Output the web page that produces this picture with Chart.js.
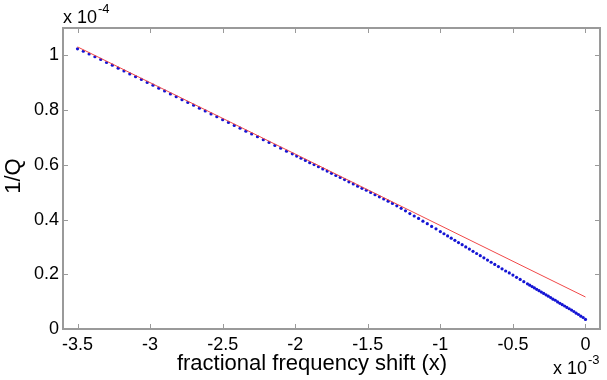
<!DOCTYPE html>
<html>
<head>
<meta charset="utf-8">
<script src="https://cdn.jsdelivr.net/npm/chart.js@4"></script>
<style>
html,body{margin:0;padding:0;background:#fff;}
#wrap{width:607px;height:380px;position:relative;}
</style>
</head>
<body>
<div id="wrap"><canvas id="c" width="607" height="380"></canvas></div>
<script>
// Measured data (x in units of 1e-3, y in units of 1e-4)
const measX = [
-3.50,-3.46,-3.42,-3.38,-3.34,-3.30,-3.26,-3.22,-3.18,-3.14,-3.10,-3.06,-3.02,-2.98,-2.94,-2.90,-2.86,-2.82,-2.78,-2.74,
-2.70,-2.66,-2.62,-2.58,-2.54,-2.50,-2.46,-2.42,-2.38,-2.34,-2.30,-2.26,-2.22,-2.18,-2.14,-2.10,-2.06,-2.02,
-1.99,-1.96,-1.93,-1.90,-1.87,-1.84,-1.81,-1.78,-1.75,-1.72,-1.69,-1.66,-1.63,-1.60,-1.57,-1.54,-1.51,-1.48,-1.45,-1.42,
-1.39,-1.36,-1.33,-1.30,-1.27,-1.24,-1.21,-1.18,-1.15,-1.12,-1.09,-1.06,-1.03,-1.00,
-0.975,-0.950,-0.925,-0.900,-0.875,-0.850,-0.825,-0.800,-0.775,-0.750,-0.725,-0.700,-0.675,-0.650,-0.625,-0.600,
-0.575,-0.550,-0.525,-0.500,-0.475,-0.450,-0.425,-0.400,
-0.384,-0.368,-0.352,-0.336,-0.320,-0.304,-0.288,-0.272,-0.256,-0.240,-0.224,-0.208,-0.192,-0.176,-0.160,-0.144,
-0.128,-0.112,-0.096,-0.080,-0.064,-0.048,-0.032,-0.016,0.000
];
const measY = [
1.024,1.015,1.005,0.995,0.985,0.974,0.964,0.953,0.943,0.932,0.922,0.912,0.901,0.891,0.880,0.870,0.859,0.849,0.838,0.828,
0.818,0.807,0.797,0.786,0.776,0.765,0.755,0.744,0.734,0.723,0.713,0.703,0.692,0.682,0.671,0.661,0.650,0.640,
0.632,0.624,0.616,0.608,0.601,0.593,0.585,0.577,0.569,0.561,0.554,0.546,0.538,0.530,0.522,0.514,0.507,0.499,0.491,0.483,
0.475,0.467,0.459,0.450,0.441,0.432,0.422,0.413,0.404,0.394,0.385,0.375,0.366,0.356,
0.348,0.340,0.332,0.324,0.316,0.308,0.300,0.292,0.284,0.276,0.268,0.260,0.252,0.244,0.236,0.228,
0.220,0.212,0.205,0.197,0.189,0.181,0.173,0.165,
0.160,0.155,0.150,0.145,0.140,0.135,0.130,0.125,0.120,0.115,0.109,0.105,0.099,0.094,0.089,0.084,
0.079,0.074,0.069,0.064,0.058,0.053,0.047,0.042,0.035
];
// Linear fit line endpoints
const fitX = [-3.5, 0.0];
const fitY = [1.031, 0.117];
// Axis ticks
const xTicks = [-3.5,-3,-2.5,-2,-1.5,-1,-0.5,0];
const yTicks = [0,0.2,0.4,0.6,0.8,1];
const xTickLabels = ['-3.5','-3','-2.5','-2','-1.5','-1','-0.5','0'];
const yTickLabels = ['0','0.2','0.4','0.6','0.8','1'];

const FONT = "'Liberation Sans', Arial, sans-serif";
const AXIS_COLOR = '#9a9a9a';

const boxPlugin = {
  id: 'boxPlugin',
  afterDraw(chart) {
    const ctx = chart.ctx, a = chart.chartArea;
    const xs = chart.scales.x, ys = chart.scales.y;
    ctx.save();
    ctx.strokeStyle = AXIS_COLOR;
    ctx.lineWidth = 2;
    ctx.strokeRect(a.left, a.top, a.right - a.left, a.bottom - a.top);
    ctx.lineWidth = 1;
    const tl = 5;
    ctx.beginPath();
    xTicks.forEach(v => {
      const px = Math.round(xs.getPixelForValue(v)) + 0.5;
      ctx.moveTo(px, a.bottom); ctx.lineTo(px, a.bottom - tl);
      ctx.moveTo(px, a.top); ctx.lineTo(px, a.top + tl);
    });
    yTicks.forEach(v => {
      const py = Math.round(ys.getPixelForValue(v)) + 0.5;
      ctx.moveTo(a.left, py); ctx.lineTo(a.left + tl, py);
      ctx.moveTo(a.right, py); ctx.lineTo(a.right - tl, py);
    });
    ctx.stroke();
    // exponent labels
    ctx.fillStyle = '#000';
    ctx.textBaseline = 'alphabetic';
    ctx.textAlign = 'left';
    ctx.font = '18px ' + FONT;
    ctx.fillText('x 10', 63, 23);
    let w = ctx.measureText('x 10').width;
    ctx.font = '13px ' + FONT;
    ctx.fillText('-4', 63 + w + 1, 13);
    ctx.font = '18px ' + FONT;
    ctx.fillText('x 10', 553, 374);
    w = ctx.measureText('x 10').width;
    ctx.font = '13px ' + FONT;
    ctx.fillText('-3', 553 + w + 1, 364);
    // axis titles
    ctx.font = '22px ' + FONT;
    ctx.textAlign = 'center';
    ctx.fillText('fractional frequency shift (x)', 312, 370);
    ctx.save();
    ctx.translate(20, 176);
    ctx.rotate(-Math.PI / 2);
    ctx.fillText('1/Q', 0, 0);
    ctx.restore();
    ctx.restore();
  }
};

new Chart(document.getElementById('c'), {
  type: 'scatter',
  data: {
    datasets: [
      {
        label: 'fit',
        data: fitX.map((x, i) => ({x, y: fitY[i]})),
        showLine: true,
        borderColor: '#f04848',
        borderWidth: 1,
        pointRadius: 0,
        fill: false,
        order: 0
      },
      {
        label: 'data',
        data: measX.map((x, i) => ({x, y: measY[i]})),
        showLine: false,
        pointRadius: 1.6,
        pointBorderWidth: 0,
        backgroundColor: '#1414d4',
        borderColor: '#1414d4',
        order: 1
      }
    ]
  },
  options: {
    responsive: false,
    animation: false,
    devicePixelRatio: 1,
    layout: { padding: { top: 28, right: 7, left: 0, bottom: 0 } },
    plugins: { legend: { display: false }, tooltip: { enabled: false } },
    scales: {
      x: {
        type: 'linear', min: -3.6, max: 0.1,
        afterBuildTicks: s => { s.ticks = xTicks.map(v => ({ value: v })); },
        afterFit: s => { s.height = 51; },
        grid: { display: false, drawTicks: false },
        border: { display: false },
        ticks: {
          autoSkip: false, maxRotation: 0, padding: 5, color: '#000',
          font: { family: FONT, size: 18 },
          callback: (v) => { const i = xTicks.indexOf(v); return i >= 0 ? xTickLabels[i] : ''; }
        }
      },
      y: {
        type: 'linear', min: 0, max: 1.1,
        afterBuildTicks: s => { s.ticks = yTicks.map(v => ({ value: v })); },
        afterFit: s => { s.width = 63; },
        grid: { display: false, drawTicks: false },
        border: { display: false },
        ticks: {
          autoSkip: false, padding: 4, color: '#000',
          font: { family: FONT, size: 18 },
          callback: (v) => { const i = yTicks.indexOf(v); return i >= 0 ? yTickLabels[i] : ''; }
        }
      }
    }
  },
  plugins: [boxPlugin]
});
</script>
</body>
</html>
